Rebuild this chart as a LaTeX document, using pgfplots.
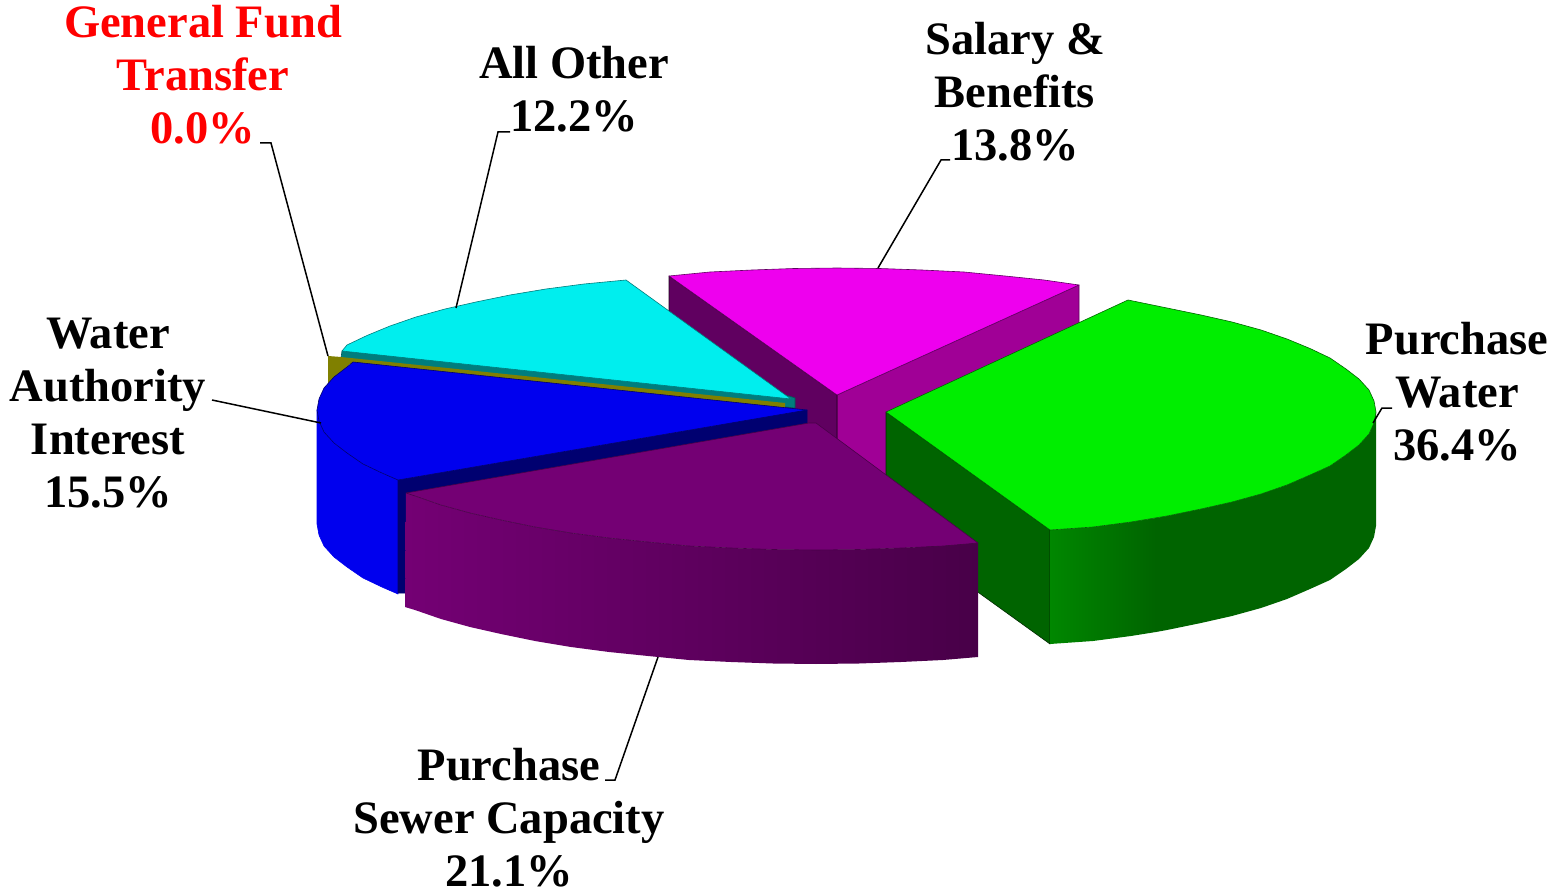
\documentclass[border=0pt]{standalone}
\usepackage{pgfplots}
\pgfplotsset{compat=1.18}
\usepackage{fontspec}
\setmainfont{Liberation Serif}
\definecolor{cGreen}{RGB}{0,238,0}
\definecolor{cGreenD}{RGB}{0,100,0}
\definecolor{cGreenM}{RGB}{0,135,0}
\definecolor{cPurple}{RGB}{116,0,116}
\definecolor{cPurpleD}{RGB}{72,0,72}
\definecolor{cMag}{RGB}{238,0,238}
\definecolor{cMagM}{RGB}{160,0,150}
\definecolor{cMagD}{RGB}{96,0,96}
\definecolor{cCyan}{RGB}{0,238,238}
\definecolor{cTeal}{RGB}{0,125,125}
\definecolor{cOlive}{RGB}{128,128,0}
\definecolor{cBlue}{RGB}{0,0,238}
\definecolor{cNavy}{RGB}{0,0,112}
\newcommand{\lab}{\fontsize{46.5}{53}\selectfont\bfseries}
\tikzset{edge/.style={line width=0.6pt,line join=round},
  lbl/.style={align=center,inner sep=0pt,font=\lab}}
\begin{document}
\begin{tikzpicture}
\path[use as bounding box] (0,0) rectangle (1551pt,893pt);
\begin{axis}[at={(0,0)},anchor=south west,scale only axis,width=1551pt,height=893pt,
  xmin=0,xmax=1551,ymin=0,ymax=893,y dir=reverse,hide axis,clip=false,no markers]
% Salary & Benefits
\addplot[edge,fill=cMagM,draw=cMagD] coordinates {(837,395)(1079,285)(1079,400)(837,510)} -- cycle;
\addplot[edge,fill=cMagD,draw=black!70!cMagD] coordinates {(669,276)(837,395)(837,510)(669,391)} -- cycle;
\addplot[edge,fill=cMag,draw=cMagD] coordinates {(837,395)(669,276)(710,272)(752,270)(794,268.5)(837,268)(880,268.5)(922,270)(964,272)(1005,276)(1044,280)(1079,285)} -- cycle;
% All Other
\addplot[edge,fill=cTeal,draw=cTeal!70!black] coordinates {(342,351)(789,396)(795,398)(795,408)(341,358)} -- cycle;
\addplot[edge,fill=cCyan,draw=cTeal] coordinates {(791,399)(626,280)(584,284)(546,289)(510,295)(476,302)(445,309)(416,317)(390,326)(367,335.5)(347,345)(342,351)} -- cycle;
% General Fund Transfer
\addplot[fill=cOlive,draw=none] coordinates {(328,356)(341,357)(785,403)(785,408)(350,364)(328,385)} -- cycle;
% Water Authority Interest
\addplot[edge,fill=cBlue,draw=cBlue] coordinates {(317,410)(319,421)(324,432)(334,443)(347,453)(363,464)(383,473.5)(398,480)(398,594)(383,587.5)(363,578)(347,567)(334,557)(324,546)(319,535)(317,524)} -- cycle;
\addplot[edge,fill=cNavy,draw=cNavy] coordinates {(398,480)(807,410)(807,423)(410,497)(410,593)(398,593)} -- cycle;
\addplot[edge,fill=cBlue,draw=cNavy] coordinates {(807,410)(398,480)(383,473.5)(363,464)(347,453)(334,443)(324,432)(319,421)(317,410)(319,399)(324,388)(334,377)(347,367)(353,362)} -- cycle;
% Purchase Water
\addplot[edge,fill=cGreenD,draw=black!60!cGreenD] coordinates {(886,412)(1050,530)(1050,644)(886,526)} -- cycle;
\addplot[draw=none,left color=cGreenM,right color=cGreenD] coordinates {(1050,530)(1093,527)(1131,522)(1156,518)(1156,632)(1131,636)(1093,641)(1050,644)} -- cycle;
\addplot[fill=cGreenD,draw=none] coordinates {(1156,518)(1167,516)(1201,509)(1232,502)(1261,494)(1287,485)(1310,475)(1330,466)(1346,455)(1359,445)(1369,434)(1374,423)(1376,412)(1376,526)(1374,537)(1369,548)(1359,559)(1346,569)(1330,580)(1310,589)(1287,599)(1261,608)(1232,616)(1201,623)(1167,630)(1156,632)} -- cycle;
\addplot[edge,fill=cGreen,draw=cGreenD] coordinates {(886,412)(1128,300)(1167,308)(1201,315)(1232,322)(1261,330)(1287,339)(1310,348.5)(1330,358)(1346,369)(1359,379)(1369,390)(1374,401)(1376,412)(1374,423)(1369,434)(1359,445)(1346,455)(1330,466)(1310,475)(1287,485)(1261,494)(1232,502)(1201,509)(1167,516)(1131,522)(1093,527)(1050,530)} -- cycle;
% Purchase Sewer Capacity
\addplot[draw=none,left color=cPurple,middle color=cPurple,right color=cPurpleD] coordinates {(978,543)(943,546)(901,548)(859,549.5)(816,550)(773,549.5)(731,548)(689,546)(648,542)(609,538)(571,533)(535,527)(501,520)(470,513)(441,505)(415,496)(406,493)(405,607)(415,610)(441,619)(470,627)(501,634)(535,641)(571,647)(609,652)(648,656)(689,660)(731,662)(773,663.5)(816,664)(859,663.5)(901,662)(943,660)(978,657)} -- cycle;
\addplot[edge,fill=cPurple,draw=cPurpleD] coordinates {(816,423)(978,543)(943,546)(901,548)(859,549.5)(816,550)(773,549.5)(731,548)(689,546)(648,542)(609,538)(571,533)(535,527)(501,520)(470,513)(441,505)(415,496)(406,493)(809,423)} -- cycle;
% Leader lines
\addplot[black,line width=1.5pt] coordinates {(260,143)(271,143)(328,356)};
\addplot[black,line width=1.5pt] coordinates {(510,132)(498,132)(456,308)};
\addplot[black,line width=1.5pt] coordinates {(950,160)(941,160)(878,268)};
\addplot[black,line width=1.5pt] coordinates {(212,400)(321,423)};
\addplot[black,line width=1.5pt] coordinates {(1392,408)(1382,408)(1373,423)};
\addplot[black,line width=1.5pt] coordinates {(658,657)(615,780)(605,780)};
% Labels
\node[lbl,text=red] at (axis cs:203,75) {General Fund\\Transfer\\0.0\%};
\node[lbl] at (axis cs:574,89) {All Other\\12.2\%};
\node[lbl] at (axis cs:1015,91.5) {Salary \&\\Benefits\\13.8\%};
\node[lbl] at (axis cs:108,413) {Water\\Authority\\Interest\\15.5\%};
\node[lbl] at (axis cs:1457,392) {Purchase\\Water\\36.4\%};
\node[lbl] at (axis cs:509,818) {Purchase\\Sewer Capacity\\21.1\%};
\end{axis}
\end{tikzpicture}
\end{document}
